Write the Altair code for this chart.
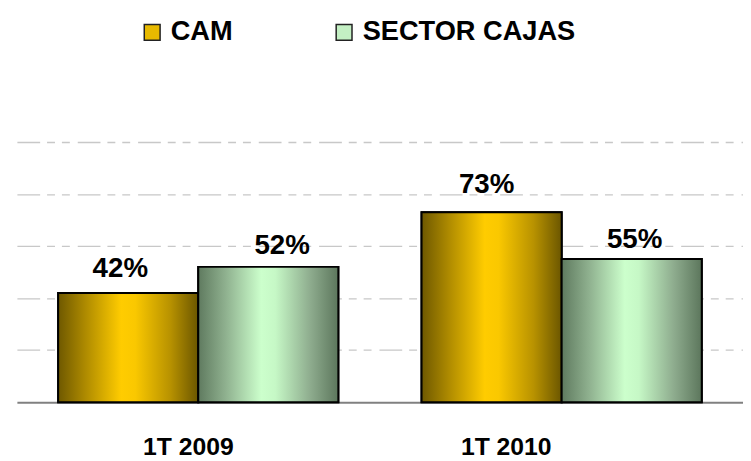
import altair as alt
import pandas as pd

categories = ["1T 2009", "1T 2010"]
series = ["CAM", "SECTOR CAJAS"]
cam_values = [42, 73]
sector_values = [52, 55]

rows = []
for i, c in enumerate(categories):
    rows.append({"periodo": c, "serie": series[0], "valor": cam_values[i]})
    rows.append({"periodo": c, "serie": series[1], "valor": sector_values[i]})
df = pd.DataFrame(rows)

FONT = "Liberation Sans"

gold_grad = {
    "gradient": "linear", "x1": 0, "x2": 1, "y1": 0, "y2": 0,
    "stops": [
        {"offset": 0.0, "color": "#6E5800"},
        {"offset": 0.2, "color": "#B08C00"},
        {"offset": 0.45, "color": "#FFCC00"},
        {"offset": 0.55, "color": "#FAC800"},
        {"offset": 0.8, "color": "#B89200"},
        {"offset": 1.0, "color": "#6B5600"},
    ],
}
green_grad = {
    "gradient": "linear", "x1": 0, "x2": 1, "y1": 0, "y2": 0,
    "stops": [
        {"offset": 0.0, "color": "#5F7A5F"},
        {"offset": 0.2, "color": "#90B290"},
        {"offset": 0.45, "color": "#CCFFCC"},
        {"offset": 0.55, "color": "#C6F8C6"},
        {"offset": 0.8, "color": "#8EAC8E"},
        {"offset": 1.0, "color": "#5C765C"},
    ],
}

base = alt.Chart(df).encode(
    x=alt.X(
        "periodo:N",
        scale=alt.Scale(domain=categories, paddingInner=0.229, paddingOuter=0.1135),
        axis=alt.Axis(
            title=None, labelAngle=0, labelFont=FONT, labelFontWeight="bold",
            labelFontSize=25, labelColor="black", labelPadding=33, ticks=False,
            domainColor="#808080", domainWidth=2, grid=False,
            labelOffset={"condition": {"test": "datum.value == '1T 2010'", "value": -56}, "value": -10},
        ),
    ),
    xOffset=alt.XOffset("serie:N", scale=alt.Scale(domain=series, paddingInner=0, paddingOuter=0)),
    y=alt.Y(
        "valor:Q",
        scale=alt.Scale(domain=[0, 100]),
        axis=alt.Axis(
            title=None, labels=False, ticks=False, domain=False,
            values=[20, 40, 60, 80, 100], gridColor="#C8C8C8",
            gridDash=[23, 7, 8, 7, 8, 8], gridWidth=1.3,
        ),
    ),
)

legend_bars = base.mark_bar(stroke="black", strokeWidth=2).encode(
    color=alt.Color(
        "serie:N",
        scale=alt.Scale(domain=series, range=["#E8BA00", "#C4F0C4"]),
        legend=alt.Legend(
            title=None, orient="none", direction="horizontal",
            legendX=123, legendY=-125, symbolType="square", symbolSize=256,
            symbolStrokeColor="#222222", symbolStrokeWidth=1.5,
            labelFont=FONT, labelFontWeight="bold", labelFontSize=27.5,
            labelColor="black", labelOffset=5, columnPadding=98, padding=0,
            labelLimit=0,
        ),
    )
)

cam_bars = base.transform_filter(alt.datum.serie == "CAM").mark_bar(
    fill=gold_grad, stroke="black", strokeWidth=2
)
sector_bars = base.transform_filter(alt.datum.serie == "SECTOR CAJAS").mark_bar(
    fill=green_grad, stroke="black", strokeWidth=2
)

labels = base.transform_calculate(
    etiqueta="format(datum.valor, '.0f') + '%'"
).mark_text(
    baseline="alphabetic", font=FONT, fontWeight="bold", fontSize=28, color="black",
    dx=alt.ExprRef("datum.serie == 'CAM' ? (datum.periodo == '1T 2009' ? -8 : -5) : (datum.periodo == '1T 2009' ? 14 : 3)"),
    dy=alt.ExprRef("datum.serie == 'CAM' ? (datum.periodo == '1T 2009' ? -16 : -19) : (datum.periodo == '1T 2009' ? -13 : -11)"),
).encode(text="etiqueta:N")

chart = alt.layer(legend_bars, cam_bars, sector_bars, labels).properties(
    width=734, height=263,
    autosize=alt.AutoSizeParams(type="none"),
    padding={"left": 9, "top": 133, "right": 0, "bottom": 55},
    background="white",
).configure_view(stroke=None)

chart.save("out.html", embed_options={"renderer": "svg", "actions": False})
